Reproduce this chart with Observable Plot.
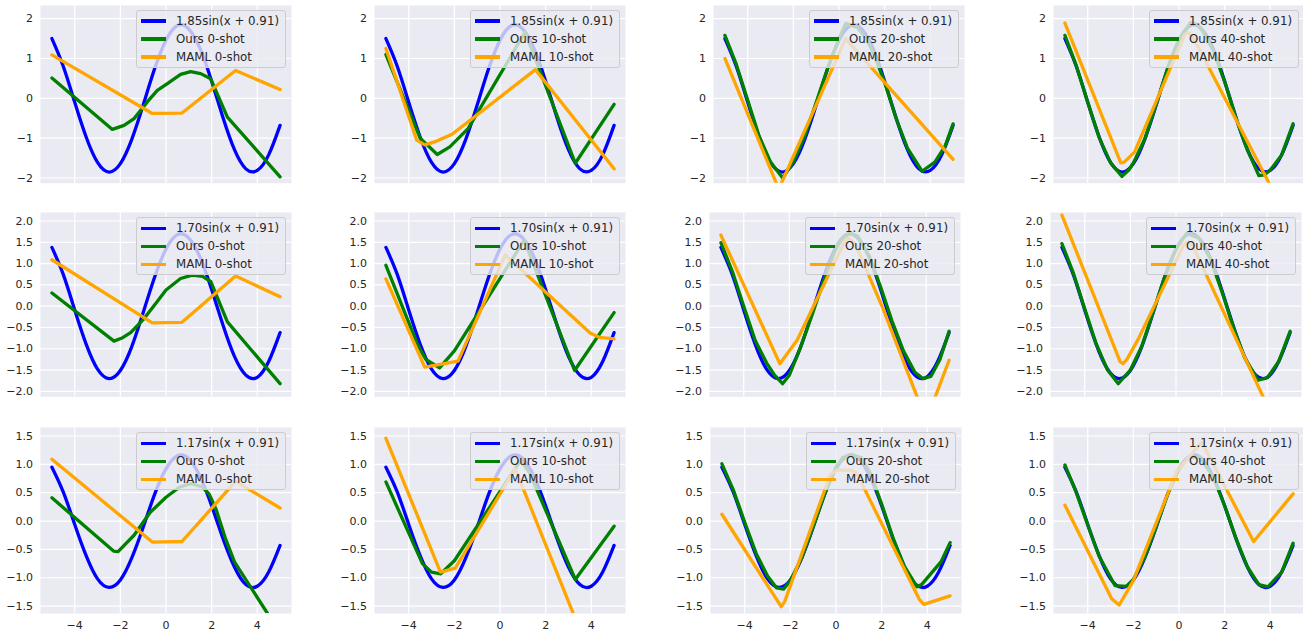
<!DOCTYPE html>
<html><head><meta charset="utf-8">
<script src="https://cdn.jsdelivr.net/npm/d3@7"></script>
<script src="https://cdn.jsdelivr.net/npm/@observablehq/plot@0.6"></script>
<style>
body{margin:0;width:1303px;height:633px;overflow:hidden;position:relative;background:#fff;font-family:"DejaVu Sans",sans-serif;}
.panel{position:absolute;}
.panel svg{position:absolute;max-width:none !important;}
.legend{position:absolute;top:5px;right:5px;background:rgba(234,234,242,0.8);border:1px solid #cccccc;border-radius:3px;padding:1px 6px 1px 4px;font-size:11.8px;color:#262626;white-space:nowrap;}
.legend .row{display:flex;align-items:center;height:18px;line-height:18px;}
.legend .h{width:25px;height:3.3px;margin-right:10px;flex:none;}
</style></head><body>
<script>
// ---- data ----
const shots = [0, 10, 20, 40];
const amplitudes = ["1.85", "1.70", "1.17"];
const xTicks = [-4, -2, 0, 2, 4];
const yTicksRow1 = [-2, -1, 0, 1, 2];
const yTicksRow2 = [-2, -1.5, -1, -0.5, 0, 0.5, 1, 1.5, 2];
const yTicksRow3 = [-1.5, -1, -0.5, 0, 0.5, 1, 1.5];
const yDomainRow1 = [-2.13, 2.33];
const yDomainRow2 = [-2.13, 2.20];
const yDomainRow3 = [-1.63, 1.65];

// true function samples
const xTrue = [-5,-4.5,-4,-3.5,-3,-2.5,-2,-1.5,-1,-0.5,0,0.5,1,1.5,2,2.5,3,3.5,4,4.5,5];
const trueRow1 = [1.50,0.80,-0.10,-0.97,-1.61,-1.85,-1.64,-1.03,-0.17,0.74,1.46,1.83,1.74,1.24,0.43,-0.49,-1.29,-1.77,-1.81,-1.42,-0.68];
const trueRow2 = [1.38,0.74,-0.09,-0.89,-1.48,-1.70,-1.51,-0.95,-0.15,0.68,1.34,1.68,1.60,1.14,0.39,-0.45,-1.18,-1.62,-1.67,-1.30,-0.62];
const trueRow3 = [0.95,0.51,-0.06,-0.61,-1.02,-1.17,-1.04,-0.65,-0.11,0.47,0.92,1.15,1.10,0.78,0.27,-0.31,-0.81,-1.12,-1.15,-0.90,-0.43];

// row 1 (1.85)
const ours0_r1 = [[-5,0.51],[-2.35,-0.78],[-1.84,-0.68],[-1.4,-0.51],[-0.82,-0.09],[-0.38,0.20],[0.06,0.37],[0.64,0.60],[1.08,0.67],[1.52,0.62],[1.96,0.49],[2.69,-0.47],[5,-1.97]];
const maml0_r1 = [[-5,1.09],[-0.6,-0.38],[0.7,-0.37],[3.05,0.70],[5,0.22]];
const ours10_r1 = [[-5,1.10],[-3.5,-1.0],[-2.75,-1.41],[-2.2,-1.22],[-1.4,-0.76],[1.1,1.66],[3.3,-1.63],[5,-0.15]];
const maml10_r1 = [[-5,1.25],[-3.65,-1.05],[-3.3,-1.17],[-2.9,-1.1],[-2.1,-0.9],[1.55,0.72],[5,-1.77]];
const ours20_r1 = [[-5,1.58],[-4.5,0.85],[-4,-0.05],[-3.5,-0.95],[-3,-1.6],[-2.47,-2.0],[-2,-1.6],[-1.5,-0.95],[-1,-0.1],[-0.5,0.75],[0,1.5],[0.3,1.88],[0.8,1.78],[1.2,1.5],[1.5,1.15],[2,0.4],[2.5,-0.5],[3,-1.25],[3.64,-1.83],[4.2,-1.6],[4.65,-1.2],[5,-0.64]];
const maml20_r1 = [[-5,1.0],[-2.64,-2.28],[0.29,1.5],[5,-1.53]];
const ours40_r1 = [[-5,1.58],[-4.5,0.82],[-4,-0.1],[-3.5,-0.98],[-3,-1.62],[-2.5,-1.96],[-2.2,-1.8],[-2,-1.62],[-1.5,-1.02],[-1,-0.15],[-0.5,0.75],[0,1.47],[0.5,1.9],[0.8,1.85],[1,1.72],[1.5,1.2],[2,0.42],[2.5,-0.5],[3,-1.3],[3.5,-1.94],[3.75,-1.92],[4,-1.8],[4.5,-1.42],[5,-0.64]];
const maml40_r1 = [[-5,1.89],[-2.55,-1.62],[-2.4,-1.6],[-1.95,-1.35],[0.25,1.6],[0.4,1.65],[0.6,1.55],[3.95,-2.13],[5,-3.2]];

// row 2 (1.70)
const ours0_r2 = [[-5,0.31],[-2.28,-0.82],[-1.9,-0.74],[-1.55,-0.62],[-0.96,-0.29],[-0.4,0.1],[0,0.38],[0.64,0.65],[1.15,0.73],[1.6,0.70],[1.96,0.58],[2.69,-0.37],[5,-1.82]];
const maml0_r2 = [[-5,1.09],[-0.6,-0.39],[0.7,-0.38],[3.05,0.71],[5,0.22]];
const ours10_r2 = [[-5,0.96],[-3.6,-0.92],[-3.25,-1.25],[-2.65,-1.45],[-2.0,-1.05],[1.06,1.55],[3.27,-1.51],[5,-0.15]];
const maml10_r2 = [[-5,0.64],[-3.3,-1.43],[-1.84,-1.29],[0.23,1.2],[3.95,-0.63],[4.35,-0.73],[5,-0.77]];
const ours20_r2 = [[-5,1.49],[-4.5,0.82],[-4,0.0],[-3.5,-0.8],[-3,-1.33],[-2.65,-1.62],[-2.3,-1.82],[-2.0,-1.62],[-1.5,-0.95],[-1,-0.2],[-0.5,0.6],[0,1.3],[0.3,1.58],[0.65,1.72],[1.0,1.64],[1.5,1.18],[2,0.45],[2.5,-0.35],[3,-1.05],[3.5,-1.55],[3.85,-1.7],[4.2,-1.65],[4.6,-1.25],[5,-0.59]];
const maml20_r2 = [[-5,1.67],[-2.42,-1.35],[-1.66,-0.8],[0.45,1.55],[0.6,1.6],[0.9,1.45],[2.1,-0.05],[3.6,-2.13],[4.02,-2.66],[5,-1.27]];
const ours40_r2 = [[-5,1.47],[-4.5,0.78],[-4,-0.06],[-3.5,-0.88],[-3,-1.5],[-2.53,-1.82],[-2.3,-1.68],[-2,-1.5],[-1.5,-0.94],[-1,-0.14],[-0.5,0.68],[0,1.34],[0.46,1.71],[1,1.6],[1.5,1.12],[2,0.36],[2.5,-0.47],[3,-1.2],[3.6,-1.74],[4,-1.68],[4.5,-1.3],[5,-0.59]];
const maml40_r2 = [[-5,2.14],[-2.45,-1.3],[-2.32,-1.35],[-2.15,-1.25],[-1.66,-0.78],[0.35,1.45],[0.53,1.51],[0.75,1.4],[3.82,-2.13],[5,-3.44]];

// row 3 (1.17)
const ours0_r3 = [[-5,0.41],[-2.3,-0.53],[-2.1,-0.54],[-1.4,-0.25],[-0.7,0.15],[0,0.42],[0.6,0.6],[1.1,0.66],[1.6,0.6],[1.9,0.47],[2.2,0.2],[2.6,-0.3],[3.0,-0.72],[4.45,-1.63],[5,-2.0]];
const maml0_r3 = [[-5,1.09],[-0.6,-0.37],[0.7,-0.36],[3.05,0.70],[5,0.23]];
const ours10_r3 = [[-5,0.69],[-3.4,-0.75],[-3.0,-0.9],[-2.6,-0.93],[-2.0,-0.7],[0.9,1.07],[1.3,0.85],[3.3,-1.03],[5,-0.09]];
const maml10_r3 = [[-5,1.46],[-2.61,-0.9],[-1.96,-0.83],[0.67,0.92],[3.22,-1.64],[5,-3.42]];
const ours20_r3 = [[-5,1.01],[-4.5,0.55],[-4,-0.02],[-3.5,-0.57],[-3,-0.97],[-2.6,-1.18],[-2.3,-1.2],[-2,-1.05],[-1.5,-0.65],[-1,-0.1],[-0.5,0.47],[0,0.95],[0.3,1.12],[0.7,1.17],[1.1,1.12],[1.5,0.85],[2,0.3],[2.5,-0.3],[3,-0.8],[3.55,-1.16],[3.75,-1.12],[4.6,-0.72],[5,-0.38]];
const maml20_r3 = [[-5,0.12],[-2.4,-1.51],[-2.25,-1.42],[-0.25,0.82],[0.05,0.9],[0.6,0.9],[0.9,0.85],[3.65,-1.38],[3.85,-1.47],[5,-1.32]];
const ours40_r3 = [[-5,0.99],[-4.5,0.5],[-4,-0.07],[-3.5,-0.62],[-2.8,-1.14],[-2.3,-1.15],[-2,-1.03],[-1.5,-0.64],[-1,-0.1],[-0.5,0.47],[0,0.92],[0.4,1.12],[0.9,1.13],[1.5,0.78],[2,0.27],[2.5,-0.31],[3,-0.81],[3.5,-1.12],[3.9,-1.16],[4.5,-0.9],[5,-0.39]];
const maml40_r3 = [[-5,0.28],[-2.95,-1.37],[-2.62,-1.48],[-2.0,-1.05],[-0.1,0.88],[1.0,1.39],[3.27,-0.36],[5,0.48]];

// ---- layout ----
const trueRows = [trueRow1, trueRow2, trueRow3];
const oursRows = [[ours0_r1, ours10_r1, ours20_r1, ours40_r1],[ours0_r2, ours10_r2, ours20_r2, ours40_r2],[ours0_r3, ours10_r3, ours20_r3, ours40_r3]];
const mamlRows = [[maml0_r1, maml10_r1, maml20_r1, maml40_r1],[maml0_r2, maml10_r2, maml20_r2, maml40_r2],[maml0_r3, maml10_r3, maml20_r3, maml40_r3]];
const yTicksRows = [yTicksRow1, yTicksRow2, yTicksRow3];
const yDomainRows = [yDomainRow1, yDomainRow2, yDomainRow3];
const panelLefts = [[40, 374, 713, 1053],[40, 374, 709, 1050],[40, 374, 710, 1053]];
const panelTops = [5, 212.3, 427.3];
const panelHeights = [177.7, 184.4, 186];
const panelW = 251;
const ML = 42;

const minus = s => s.replace("-", "\u2212");
const fmtInt = d => minus(String(d));
const fmt1 = d => minus(d.toFixed(1));

for (let r = 0; r < 3; r++) {
  const trueData = xTrue.map((x, i) => ({x, y: trueRows[r][i]}));
  for (let c = 0; c < 4; c++) {
    const left = panelLefts[r][c], top = panelTops[r], H = panelHeights[r];
    const mb = r === 2 ? 24 : 0;
    const ours = oursRows[r][c], maml = mamlRows[r][c];
    const W = ML + panelW, HH = H + mb;
    const svg = Plot.plot({
      width: W, height: HH,
      marginLeft: ML, marginRight: 0, marginTop: 0, marginBottom: mb,
      style: {background: "transparent", overflow: "visible", fontFamily: "DejaVu Sans", fontSize: "11px", color: "#262626"},
      x: {domain: [-5.5, 5.5], ticks: xTicks, tickSize: 0, tickPadding: 8, tickFormat: fmtInt, label: null, axis: r === 2 ? "bottom" : null},
      y: {domain: yDomainRows[r], ticks: yTicksRows[r], tickSize: 0, tickPadding: 7.5, tickFormat: r === 0 ? fmtInt : fmt1, label: null},
      marks: [
        Plot.frame({fill: "#EAEAF2", stroke: null}),
        Plot.gridX(xTicks, {stroke: "white", strokeOpacity: 1, strokeWidth: 1.2}),
        Plot.gridY(yTicksRows[r], {stroke: "white", strokeOpacity: 1, strokeWidth: 1.2}),
        Plot.line(trueData, {x: "x", y: "y", stroke: "blue", strokeWidth: 3.3, curve: "natural", clip: true}),
        Plot.line(ours, {x: d => d[0], y: d => d[1], stroke: "green", strokeWidth: 3.3, clip: true}),
        Plot.line(maml, {x: d => d[0], y: d => d[1], stroke: "orange", strokeWidth: 3.3, clip: true})
      ]
    });
    const panel = document.createElement("div");
    panel.className = "panel";
    panel.style.left = left + "px";
    panel.style.top = top + "px";
    panel.style.width = panelW + "px";
    panel.style.height = H + "px";
    svg.style.left = (-ML) + "px";
    svg.style.top = "0px";
    svg.style.width = W + "px";
    svg.style.height = HH + "px";
    svg.style.maxWidth = "none";
    panel.appendChild(svg);
    const lg = document.createElement("div");
    lg.className = "legend";
    const items = [["blue", amplitudes[r] + "sin(x + 0.91)"], ["green", "Ours " + shots[c] + "-shot"], ["orange", "MAML " + shots[c] + "-shot"]];
    for (const [col, txt] of items) {
      const row = document.createElement("div");
      row.className = "row";
      const h = document.createElement("span");
      h.className = "h";
      h.style.background = col;
      const t = document.createElement("span");
      t.textContent = txt;
      row.appendChild(h); row.appendChild(t);
      lg.appendChild(row);
    }
    panel.appendChild(lg);
    document.body.appendChild(panel);
  }
}
</script>
</body></html>
